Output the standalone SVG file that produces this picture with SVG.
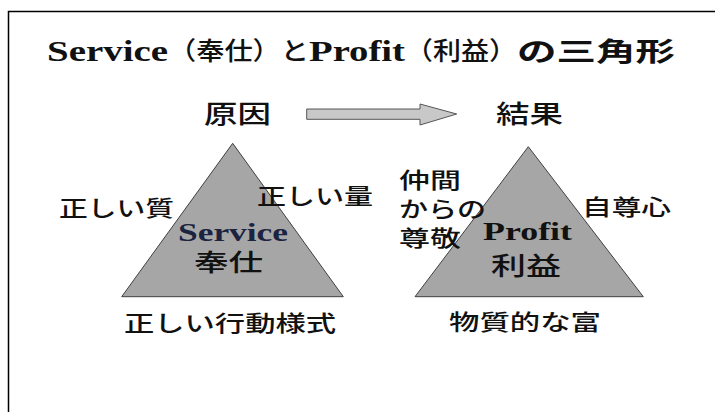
<svg xmlns="http://www.w3.org/2000/svg" width="715" height="412" viewBox="0 0 715 412">
<style>
.jp{font-family:"Noto Sans CJK JP","Noto Sans",sans-serif;fill:#111;font-weight:500;}
.en{font-family:"Liberation Serif",serif;font-weight:bold;fill:#111;}
.lbl{font-size:22px;}
.tri{fill:#a6a6a6;stroke:#404040;stroke-width:1;}
.arr{fill:#c8c8c8;stroke:#555;stroke-width:1;}
</style>
<rect x="0" y="0" width="715" height="412" fill="#fff"/>
<path d="M8.5,412 V11.5 H715" fill="none" stroke="#000" stroke-width="1.5"/>
<g id="title">
<text class="en" x="47" y="61" font-size="29" textLength="121" lengthAdjust="spacingAndGlyphs">Service</text>
<text class="jp" x="168" y="60" font-size="25" textLength="141" lengthAdjust="spacingAndGlyphs">（奉仕）と</text>
<text class="en" x="309" y="61" font-size="29" textLength="96" lengthAdjust="spacingAndGlyphs">Profit</text>
<text class="jp" x="405" y="60" font-size="25" textLength="112" lengthAdjust="spacingAndGlyphs">（利益）</text>
<text class="jp" x="517" y="61" font-size="26" font-weight="bold" style="font-weight:bold" textLength="158" lengthAdjust="spacingAndGlyphs">の三角形</text>
</g>
<g id="cause">
<text class="jp" x="204" y="123" font-size="25" textLength="67" lengthAdjust="spacingAndGlyphs">原因</text>
</g>
<g id="effect">
<text class="jp" x="496" y="123" font-size="25" textLength="67" lengthAdjust="spacingAndGlyphs">結果</text>
</g>
<g id="connectors">
<path class="arr" d="M306.7,109 H420 V104 L456.7,114 L420,125 V119.3 H306.7 Z"/>
</g>
<g id="service-triangle">
<polygon class="tri" points="232.7,143.3 343.3,296.7 121.7,296.7"/>
<text class="en" x="178" y="241" font-size="25" style="fill:#1c2340" textLength="110" lengthAdjust="spacingAndGlyphs">Service</text>
<text class="jp" x="194" y="271" font-size="24" textLength="69" lengthAdjust="spacingAndGlyphs">奉仕</text>
</g>
<g id="label-quality">
<text class="jp lbl" x="59" y="216" textLength="115" lengthAdjust="spacingAndGlyphs">正しい質</text>
</g>
<g id="label-quantity">
<text class="jp lbl" x="257" y="204" textLength="116" lengthAdjust="spacingAndGlyphs">正しい量</text>
</g>
<g id="label-behavior">
<text class="jp lbl" x="124" y="331" textLength="212" lengthAdjust="spacingAndGlyphs">正しい行動様式</text>
</g>
<g id="profit-triangle">
<polygon class="tri" points="528.3,146.7 643.3,296.7 415,296.7"/>
<text class="en" x="483" y="240" font-size="25" textLength="89" lengthAdjust="spacingAndGlyphs">Profit</text>
<text class="jp" x="491" y="275" font-size="25" textLength="70" lengthAdjust="spacingAndGlyphs">利益</text>
</g>
<g id="label-respect">
<text class="jp lbl" x="399" y="188" textLength="62" lengthAdjust="spacingAndGlyphs">仲間</text>
<text class="jp lbl" x="399" y="217" textLength="87" lengthAdjust="spacingAndGlyphs">からの</text>
<text class="jp lbl" x="399" y="246" textLength="62" lengthAdjust="spacingAndGlyphs">尊敬</text>
</g>
<g id="label-selfesteem">
<text class="jp lbl" x="582" y="215" textLength="89" lengthAdjust="spacingAndGlyphs">自尊心</text>
</g>
<g id="label-wealth">
<text class="jp lbl" x="449" y="330" textLength="152" lengthAdjust="spacingAndGlyphs">物質的な富</text>
</g>
</svg>
